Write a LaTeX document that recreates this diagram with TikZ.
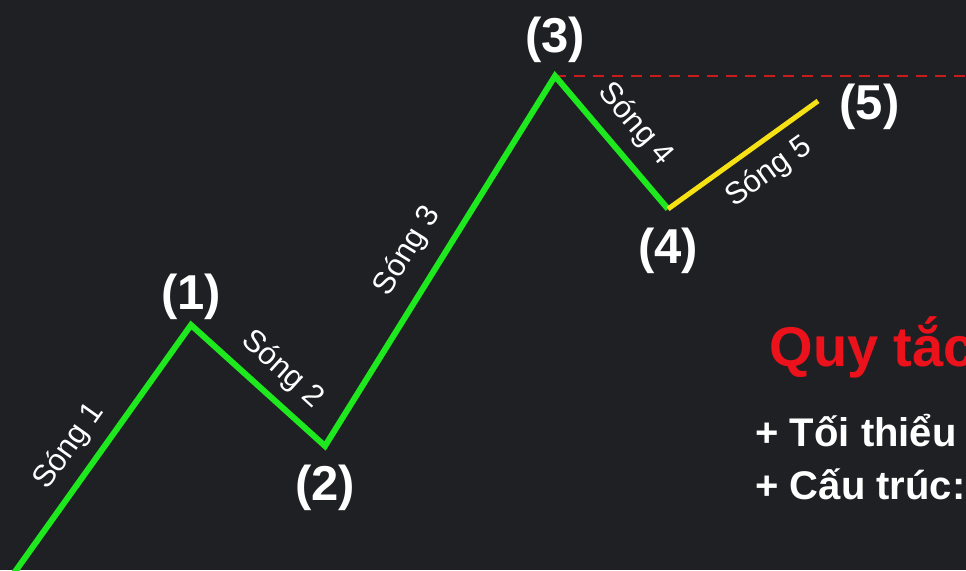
\documentclass[tikz,border=0pt]{standalone}
\usepackage{fontspec}
\setmainfont{Liberation Sans}
\usetikzlibrary{positioning}
\begin{document}
\begin{tikzpicture}[
  x=1pt, y=1pt,
  wave/.style={line width=6pt, draw=Cwave},
  lastwave/.style={line width=5pt, draw=Cfifth},
  wavelbl/.style={font=\fontsize{31}{31}\selectfont, text=white, sloped},
  ptlbl/.style={font=\fontsize{49}{49}\selectfont\bfseries, text=white},
  rule/.style={anchor=base west, text=white, font=\fontsize{40}{40}\selectfont\bfseries}
]
\definecolor{Cbg}{RGB}{31,32,36}
\definecolor{Cwave}{RGB}{30,232,30}
\definecolor{Cfifth}{RGB}{245,225,20}
\definecolor{Cdash}{RGB}{200,28,28}
\definecolor{Ctitle}{RGB}{236,18,28}
%% BACKGROUND
\fill[Cbg] (0,0) rectangle (966,570);
\useasboundingbox (0,0) rectangle (966,570);
%% WAVE POINTS
\coordinate (W0) at (12,-6);
\coordinate (W1) at (191,245);
\coordinate (W2) at (325,124);
\coordinate (W3) at (555,494);
\coordinate (W4) at (668,361);
\coordinate (W5) at (818,469);
\coordinate (Rend) at (970,494);
%% TOP LEVEL OF WAVE 3
\draw[Cdash, line width=1.5pt, dash pattern=on 11pt off 8pt] (W3) -- (Rend);
%% WAVES
\draw[wave] (W0) -- node[wavelbl, above=8pt, pos=0.45] {Sóng 1}
  (W1) -- node[wavelbl, above=7pt, pos=0.54] {Sóng 2}
  (W2) -- node[wavelbl, above=12pt, pos=0.48] {Sóng 3}
  (W3) -- node[wavelbl, above=9pt, pos=0.51] {Sóng 4} (W4);
\draw[lastwave] (W4) -- node[wavelbl, below=9pt, pos=0.56] {Sóng 5} (W5);
%% POINT LABELS
\node[ptlbl, above=2pt of W1]  (N1) {(1)};
\node[ptlbl, below=15pt of W2] (N2) {(2)};
\node[ptlbl, above=10pt of W3] (N3) {(3)};
\node[ptlbl, below=15pt of W4] (N4) {(4)};
\node[ptlbl, right=18pt of W5, yshift=-6pt] (N5) {(5)};
%% RULES
\node[anchor=base west, text=Ctitle, font=\fontsize{56}{56}\selectfont\bfseries] (Title) at (766,203) {Quy tắc};
\node[rule] (R1) at (752,123) {+ Tối thiểu};
\node[rule] (R2) at (752,70) {+ Cấu trúc:};
\end{tikzpicture}
\end{document}
